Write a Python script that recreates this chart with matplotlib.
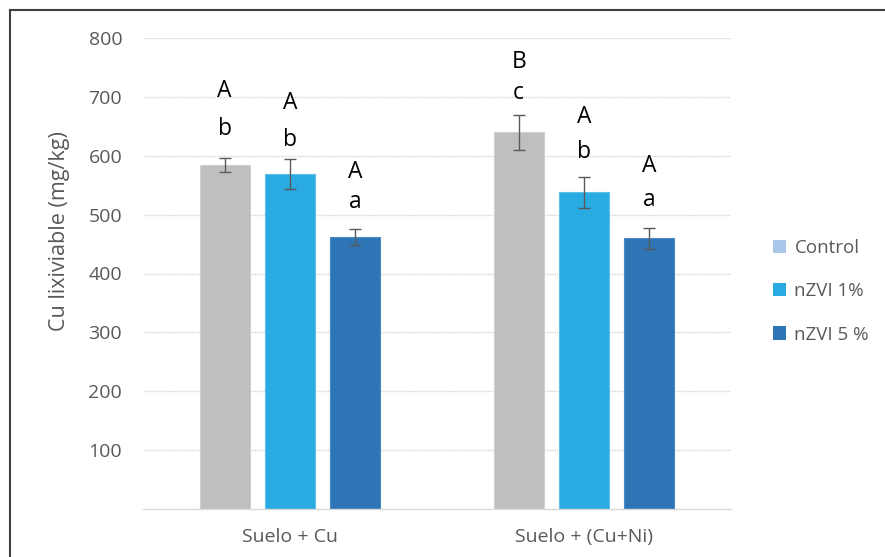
import matplotlib
matplotlib.use("Agg")
import matplotlib.pyplot as plt
from matplotlib.patches import Patch
from matplotlib.lines import Line2D
import numpy as np

plt.rcParams['font.family'] = ['Open Sans', 'DejaVu Sans']

categories = ["Suelo + Cu", "Suelo + (Cu+Ni)"]
series_names = ["Control", "nZVI 1%", "nZVI 5 %"]
values = {
    "Control": [584, 640],
    "nZVI 1%": [569, 538],
    "nZVI 5 %": [462, 460],
}
errors = {
    "Control": [12, 30],
    "nZVI 1%": [25, 26],
    "nZVI 5 %": [13, 18],
}
upper_letters = {
    "Control": ["A", "B"],
    "nZVI 1%": ["A", "A"],
    "nZVI 5 %": ["A", "A"],
}
lower_letters = {
    "Control": ["b", "c"],
    "nZVI 1%": ["b", "b"],
    "nZVI 5 %": ["a", "a"],
}
upper_y = {
    "Control": [710, 760],
    "nZVI 1%": [690, 666],
    "nZVI 5 %": [572, 583],
}
lower_y = {
    "Control": [645, 707],
    "nZVI 1%": [627, 606],
    "nZVI 5 %": [521, 525],
}
yticks = [100, 200, 300, 400, 500, 600, 700, 800]

bar_colors = ["#bfbfbf", "#29abe2", "#2e75b6"]
edge_colors = ["#d0d0d0", "#5cc0ea", "#4a88c2"]
legend_colors = ["#a9c6e8", "#29abe2", "#2e75b6"]

fig = plt.figure(figsize=(8.85, 5.57), dpi=100)
ax = fig.add_axes([143/885, 1-509/557, (731-143)/885, (509-38)/557])

x = np.arange(len(categories))
step = 0.222
width = 0.17
for i, name in enumerate(series_names):
    xs = x + (i - 1) * step
    ax.bar(xs, values[name], width=width, color=bar_colors[i],
           edgecolor=edge_colors[i], linewidth=0.8, zorder=2)
    ax.errorbar(xs, values[name], yerr=errors[name], fmt='none',
                ecolor="#595959", elinewidth=1.0, capsize=4.5, capthick=1.0, zorder=3)
    for j in range(len(categories)):
        ax.text(xs[j], upper_y[name][j], upper_letters[name][j], ha='center',
                va='center', fontsize=16.5, color='black')
        ax.text(xs[j], lower_y[name][j], lower_letters[name][j], ha='center',
                va='center', fontsize=16.5, color='black')

ax.set_xlim(-0.5, 1.5)
ax.set_ylim(0, 800)
ax.set_yticks(yticks)
ax.set_yticklabels([str(t) for t in yticks], fontsize=14, color="#595959")
ax.set_xticks(x)
ax.set_xticklabels(categories, fontsize=14, color="#595959")
ax.tick_params(axis='both', length=0)
ax.tick_params(axis='y', pad=15)
ax.tick_params(axis='x', pad=14)
ax.grid(axis='y', color="#d9d9d9", linewidth=1.0, linestyle=(0, (1, 0.6)), zorder=0)
ax.set_axisbelow(True)
for s in ['top', 'right', 'left']:
    ax.spines[s].set_visible(False)
ax.spines['bottom'].set_color("#d9d9d9")
ax.spines['bottom'].set_linewidth(1.0)
ax.set_ylabel("Cu lixiviable (mg/kg)", fontsize=15.5, color="#595959")
ax.yaxis.set_label_coords(-0.124, 0.59)

handles = [Patch(facecolor=legend_colors[i], edgecolor='none', label=series_names[i])
           for i in range(3)]
leg = fig.legend(handles=handles, loc='upper left', bbox_to_anchor=(756/885, 1-222/557),
                 frameon=False, fontsize=13.5, labelspacing=1.35, handlelength=0.7,
                 handleheight=0.7, handletextpad=0.45, labelcolor="#595959")

# figure border (left and top)
fig.add_artist(Line2D([9.5/885, 9.5/885], [0, 1-10/557], transform=fig.transFigure,
                      color="#404040", linewidth=1.5))
fig.add_artist(Line2D([9.5/885, 1], [1-10/557, 1-10/557], transform=fig.transFigure,
                      color="#404040", linewidth=1.5))

fig.savefig("out.png", dpi=100)
